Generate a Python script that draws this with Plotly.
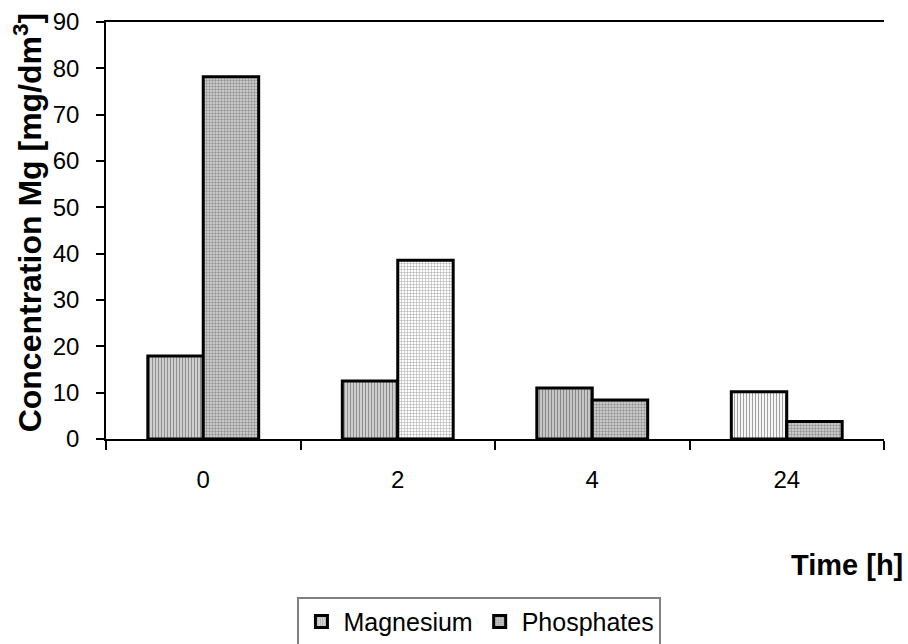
import plotly.graph_objects as go

# Sampling times and measured concentrations
times = ["0", "2", "4", "24"]
magnesium = [17.9, 12.5, 11.0, 10.2]
phosphates = [78.2, 38.6, 8.4, 3.8]

# Per-bar fill tones for the hatched patterns
mg_fg = ["#858585", "#858585", "#777777", "#9a9a9a"]
mg_bg = ["#d6d6d6", "#d6d6d6", "#cccccc", "#ffffff"]
ph_fg = ["#5a5a5a", "#9a9a9a", "#555555", "#555555"]
ph_bg = ["#c8c8c8", "#ffffff", "#c8c8c8", "#c8c8c8"]

FONT = "Liberation Sans, Arial, sans-serif"

fig = go.Figure()
fig.add_trace(go.Bar(
    x=times, y=magnesium, name="Magnesium",
    marker=dict(
        color=mg_bg,
        line=dict(color="black", width=3),
        pattern=dict(shape="|", size=3, solidity=0.4,
                     fgcolor=mg_fg, bgcolor=mg_bg, fillmode="overlay"),
    ),
))
fig.add_trace(go.Bar(
    x=times, y=phosphates, name="Phosphates",
    marker=dict(
        color=ph_bg,
        line=dict(color="black", width=3),
        pattern=dict(shape="+", size=3, solidity=0.3,
                     fgcolor=ph_fg, bgcolor=ph_bg, fillmode="overlay"),
    ),
))

fig.update_layout(
    width=908, height=644,
    margin=dict(l=106, r=24, t=22, b=205, autoexpand=False),
    paper_bgcolor="white", plot_bgcolor="white",
    barmode="group", bargap=0.43, bargroupgap=0,
    font=dict(family=FONT, color="black"),
    showlegend=True,
    legend=dict(
        orientation="h", x=0.48, xanchor="center", y=-0.378, yanchor="top",
        font=dict(size=25, family=FONT, color="black"),
        bordercolor="#808080", borderwidth=2, bgcolor="white",
        itemwidth=34, traceorder="normal",
    ),
    xaxis=dict(
        type="category", showline=True, linecolor="black", linewidth=1.5,
        mirror=True, ticks="outside", tickson="boundaries", ticklen=9,
        tickcolor="black", tickwidth=1.5, showgrid=False,
        tickfont=dict(size=24, family=FONT, color="black"),
        ticklabelstandoff=18, automargin=False,
    ),
    yaxis=dict(
        range=[0, 90], dtick=10, showline=True, linecolor="black",
        linewidth=1.5, ticks="outside", ticklen=8, tickcolor="black",
        tickwidth=1.5, showgrid=False, zeroline=False,
        tickfont=dict(size=24, family=FONT, color="black"),
        ticklabelstandoff=12, automargin=False,
    ),
    annotations=[
        dict(text="<b>Concentration Mg [mg/dm<sup>3</sup>]</b>",
             xref="paper", yref="paper", x=-0.1, y=0.52,
             xanchor="center", yanchor="middle", textangle=-90,
             showarrow=False, font=dict(size=32, family=FONT, color="black")),
        dict(text="<b>Time [h]</b>", xref="paper", yref="paper",
             x=1.027, y=-0.303, xanchor="right", yanchor="middle",
             showarrow=False, font=dict(size=29, family=FONT, color="black")),
    ],
)

fig.write_html("out.html")
